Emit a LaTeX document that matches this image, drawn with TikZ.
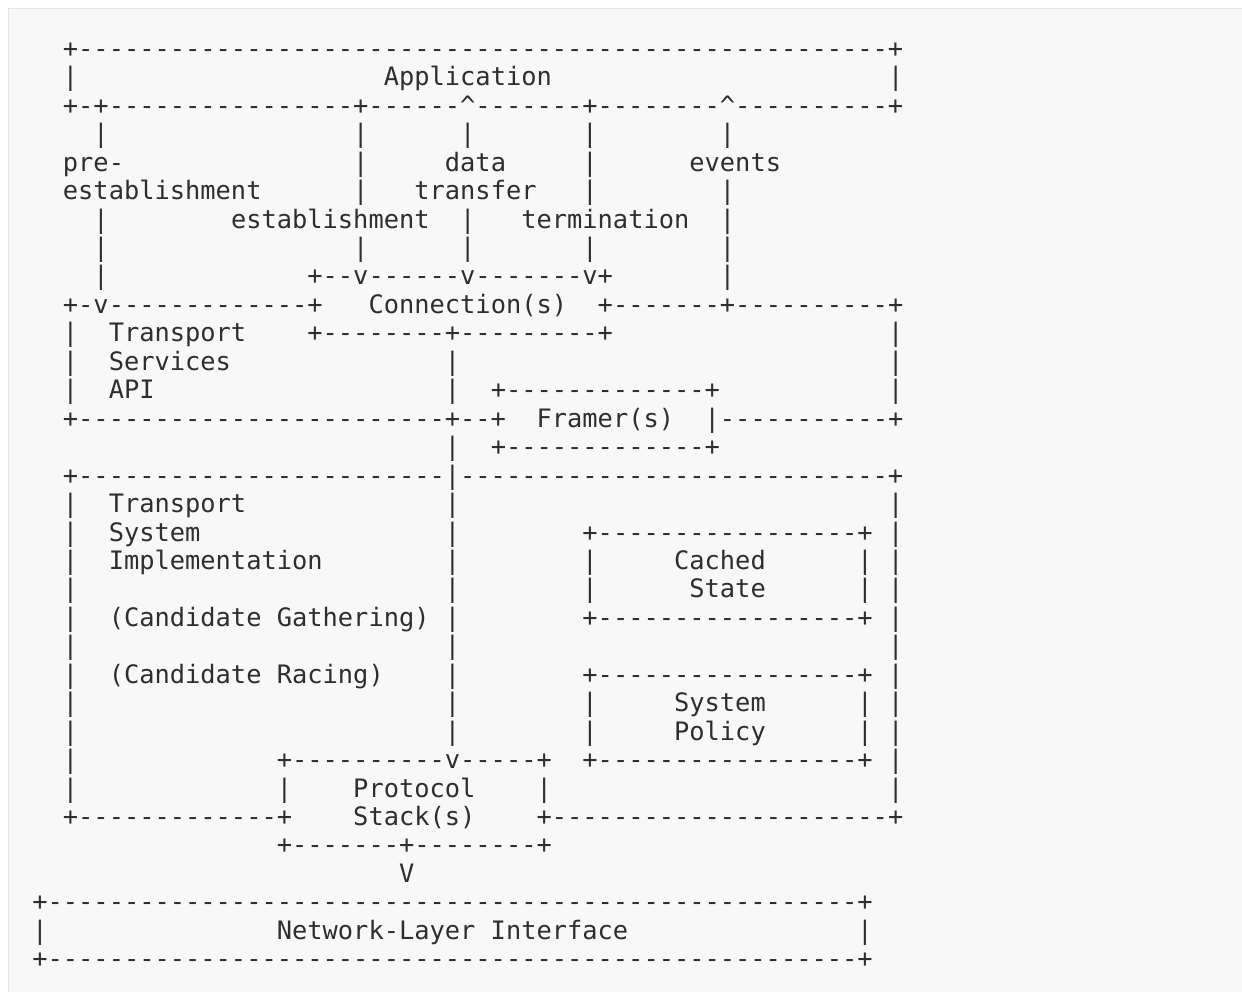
\documentclass[tikz,border=0pt]{standalone}
\usepackage{fontspec}
\setmonofont{DejaVu Sans Mono}
\ExplSyntaxOn
\cs_new:Npn \dsh #1 { \prg_replicate:nn {#1} {-} }
\ExplSyntaxOff
\definecolor{bgc}{HTML}{F8F8F8}
\definecolor{edgec}{HTML}{E4E4E4}
\definecolor{textc}{HTML}{2E2E2E}
\tikzset{
  ascii/.style={font=\ttfamily\fontsize{25.38}{28}\selectfont\frenchspacing,
    inner sep=0pt, outer sep=0pt, anchor=base west, text=textc}
}
\newcommand\seg[3]{\node[ascii] (r#1c#2) at ({32.36+15.28*#2},{934.6-28.45*#1}) {#3};}
\begin{document}
\begin{tikzpicture}[x=1pt,y=1pt]
\useasboundingbox (0,0) rectangle (1242,992);
\fill[white] (0,0) rectangle (1242,992);
\filldraw[fill=bgc, draw=edgec, line width=1pt] (8.5,-2) -- (8.5,983.5) -- (1245,983.5) -- (1245,-2) -- cycle;
% row 0
\seg{0}{2}{+\dsh{53}+}
% row 1
\seg{1}{2}{|}\seg{1}{23}{Application}\seg{1}{56}{|}
% row 2
\seg{2}{2}{+-+\dsh{16}+\dsh{6}\^{}\dsh{7}+\dsh{8}\^{}\dsh{10}+}
% row 3
\seg{3}{4}{|}\seg{3}{21}{|}\seg{3}{28}{|}\seg{3}{36}{|}\seg{3}{45}{|}
% row 4
\seg{4}{2}{pre-}\seg{4}{21}{|}\seg{4}{27}{data}\seg{4}{36}{|}\seg{4}{43}{events}
% row 5
\seg{5}{2}{establishment}\seg{5}{21}{|}\seg{5}{25}{transfer}\seg{5}{36}{|}\seg{5}{45}{|}
% row 6
\seg{6}{4}{|}\seg{6}{13}{establishment}\seg{6}{28}{|}\seg{6}{32}{termination}\seg{6}{45}{|}
% row 7
\seg{7}{4}{|}\seg{7}{21}{|}\seg{7}{28}{|}\seg{7}{36}{|}\seg{7}{45}{|}
% row 8
\seg{8}{4}{|}\seg{8}{18}{+\dsh{2}v\dsh{6}v\dsh{7}v+}\seg{8}{45}{|}
% row 9
\seg{9}{2}{+-v\dsh{13}+}\seg{9}{22}{Connection(s)}\seg{9}{37}{+\dsh{7}+\dsh{10}+}
% row 10
\seg{10}{2}{|}\seg{10}{5}{Transport}\seg{10}{18}{+\dsh{8}+\dsh{9}+}\seg{10}{56}{|}
% row 11
\seg{11}{2}{|}\seg{11}{5}{Services}\seg{11}{27}{|}\seg{11}{56}{|}
% row 12
\seg{12}{2}{|}\seg{12}{5}{API}\seg{12}{27}{|}\seg{12}{30}{+\dsh{13}+}\seg{12}{56}{|}
% row 13
\seg{13}{2}{+\dsh{24}+\dsh{2}+}\seg{13}{33}{Framer(s)}\seg{13}{44}{|\dsh{11}+}
% row 14
\seg{14}{27}{|}\seg{14}{30}{+\dsh{13}+}
% row 15
\seg{15}{2}{+\dsh{24}|\dsh{28}+}
% row 16
\seg{16}{2}{|}\seg{16}{5}{Transport}\seg{16}{27}{|}\seg{16}{56}{|}
% row 17
\seg{17}{2}{|}\seg{17}{5}{System}\seg{17}{27}{|}\seg{17}{36}{+\dsh{17}+}\seg{17}{56}{|}
% row 18
\seg{18}{2}{|}\seg{18}{5}{Implementation}\seg{18}{27}{|}\seg{18}{36}{|}\seg{18}{42}{Cached}\seg{18}{54}{|}\seg{18}{56}{|}
% row 19
\seg{19}{2}{|}\seg{19}{27}{|}\seg{19}{36}{|}\seg{19}{43}{State}\seg{19}{54}{|}\seg{19}{56}{|}
% row 20
\seg{20}{2}{|}\seg{20}{5}{(Candidate Gathering)}\seg{20}{27}{|}\seg{20}{36}{+\dsh{17}+}\seg{20}{56}{|}
% row 21
\seg{21}{2}{|}\seg{21}{27}{|}\seg{21}{56}{|}
% row 22
\seg{22}{2}{|}\seg{22}{5}{(Candidate Racing)}\seg{22}{27}{|}\seg{22}{36}{+\dsh{17}+}\seg{22}{56}{|}
% row 23
\seg{23}{2}{|}\seg{23}{27}{|}\seg{23}{36}{|}\seg{23}{42}{System}\seg{23}{54}{|}\seg{23}{56}{|}
% row 24
\seg{24}{2}{|}\seg{24}{27}{|}\seg{24}{36}{|}\seg{24}{42}{Policy}\seg{24}{54}{|}\seg{24}{56}{|}
% row 25
\seg{25}{2}{|}\seg{25}{16}{+\dsh{10}v\dsh{5}+}\seg{25}{36}{+\dsh{17}+}\seg{25}{56}{|}
% row 26
\seg{26}{2}{|}\seg{26}{16}{|}\seg{26}{21}{Protocol}\seg{26}{33}{|}\seg{26}{56}{|}
% row 27
\seg{27}{2}{+\dsh{13}+}\seg{27}{21}{Stack(s)}\seg{27}{33}{+\dsh{22}+}
% row 28
\seg{28}{16}{+\dsh{7}+\dsh{8}+}
% row 29
\seg{29}{24}{V}
% row 30
\seg{30}{0}{+\dsh{53}+}
% row 31
\seg{31}{0}{|}\seg{31}{16}{Network-Layer Interface}\seg{31}{54}{|}
% row 32
\seg{32}{0}{+\dsh{53}+}
\end{tikzpicture}
\end{document}
